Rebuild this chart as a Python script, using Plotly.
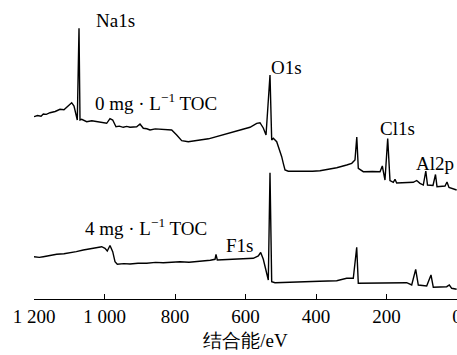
import plotly.graph_objects as go

# Binding energy (eV) and intensity (a.u.)
be_0mg = [1200, 1190, 1180, 1173.6, 1165, 1154.6, 1140, 1126.2, 1115, 1107.2, 1093.1, 1086.5, 1080.9, 1077.2, 1072.3,
          1069.5, 1064.7, 1058, 1050.5, 1036, 1022.1, 1008, 993.8, 984.4, 976.7, 967.4, 958, 946.7, 937, 927.7,
          908.7, 899.3, 889.9, 880, 870.9, 856, 842.6, 823.6, 809.4, 795.2, 781.0, 762.3, 745, 729.1, 705,
          681.7, 660, 634.6, 610, 587.2, 568.2, 558.9, 549.5, 541.8, 530.5, 525.7, 521.1, 511.5,
          506.9, 502.1, 497.3, 492.8, 487.9, 478.6, 460, 436.9, 410, 388.7, 365, 341.3, 312.9,
          298.7, 289.4, 284.3, 280.0, 265.8, 240, 218.4, 211.9, 204.3, 196.6, 190.1, 180.7,
          175.9, 171.1, 150, 124.0, 114.3, 105.0, 95.6, 88.5, 83.7, 68.1, 61.0, 56.7, 34.0,
          28.4, 22.7, 1]
int_0mg = [182.3, 183.5, 182.8, 185, 184.6, 186.3, 187.5, 189.7, 189.2, 191.7, 196.3, 193, 186, 179, 270.7,
           179, 179.7, 178.4, 177.3, 178.2, 177.3, 176.5, 175.7, 180.3, 179, 172.3, 172.9, 171.7, 172.6, 171.7,
           172.3, 175, 170.7, 170.2, 169, 170.1, 169.7, 169.7, 169, 164, 158.3, 157.3, 158.5, 159, 160.2,
           162.3, 164.5, 167.3, 169.5, 171.7, 175.7, 176.3, 171, 164, 224, 159, 160.7, 157.3,
           152.3, 149, 142.3, 135.7, 129, 127.8, 127.8, 127.3, 127.8, 128.3, 129.5, 131.3, 134,
           135.7, 139, 162, 130.7, 127.3, 127.5, 127.3, 133, 119, 160.5, 118.5, 116.7,
           119.7, 116, 116.5, 116.7, 118.5, 115.7, 114, 128, 114, 113.5, 124.5, 112.3, 113,
           117, 111.5, 109]

be_4mg = [1200, 1185, 1173.6, 1155, 1135.6, 1115, 1097.9, 1080, 1060.2, 1045, 1031.8, 1008.0, 998.6, 992.1, 984.4, 976.7,
          970.2, 963.7, 945, 927.7, 905, 880.3, 855, 833.2, 810, 785.8, 760, 738.4, 719.7, 700, 686.5, 683.7, 680.0, 644.0,
          615.6, 577.9, 563.7, 556.9, 549.5, 539.9, 535.3, 530.5, 525.7, 516.3, 475, 436.0, 390, 341.3,
          312.9, 294.2, 284.5, 280.0, 246.8, 199.4, 142.7, 128.5, 117.2, 109.8, 86.0, 73.8,
          67.2, 29.2, 21.8, 15.0, 1]
int_4mg = [42.3, 41.6, 42.3, 43.5, 44.7, 45.3, 46.7, 47.4, 49, 49.6, 50.7, 52.3, 50.7, 48, 53.5, 47.3,
           37.3, 34.7, 35.4, 35, 35.8, 35.7, 36.6, 36.3, 37.1, 37.3, 36.8, 37.3, 38, 38.7, 39.7, 44.7, 39, 39.7,
           40.2, 40.7, 43, 46.5, 39.7, 24, 19, 126.3, 17.3, 16.3, 17.0, 17.3, 17.8, 18.3,
           20.7, 20.7, 51.7, 15.7, 15.7, 15.7, 16.3, 14, 29.7, 14, 13, 24,
           11.7, 12.3, 14, 10.7, 9.7]

tick_vals = [1200, 1000, 800, 600, 400, 200, 0]
tick_text = ["1 200", "1 000", "800", "600", "400", "200", "0"]

labels = [
    ("Na1s", 970.2, 279),
    ("0 mg · L<sup>−1</sup> TOC", 855.3, 197),
    ("O1s", 485.1, 232),
    ("Cl1s", 170.2, 171),
    ("Al2p", 62.4, 136),
    ("4 mg · L<sup>−1</sup> TOC", 882.3, 72),
    ("F1s", 617.0, 54),
]

FONT = "Liberation Serif"

fig = go.Figure()
for xs, ys in [(be_0mg, int_0mg), (be_4mg, int_4mg)]:
    fig.add_trace(go.Scatter(x=xs, y=ys, mode="lines",
                             line=dict(color="black", width=1.4),
                             showlegend=False, hoverinfo="skip"))

for text, x, y in labels:
    fig.add_annotation(x=x, y=y, xref="x", yref="y", text=text, showarrow=False,
                       font=dict(family=FONT, size=19, color="black"),
                       xanchor="center", yanchor="middle")

fig.update_layout(
    width=457, height=355,
    margin=dict(l=34, r=0, t=0, b=56, autoexpand=False),
    paper_bgcolor="white", plot_bgcolor="white",
    font=dict(family=FONT, size=19, color="black"),
    xaxis=dict(range=[1200, 0], tickvals=tick_vals, ticktext=tick_text,
               ticks="inside", ticklen=5, tickwidth=1, tickcolor="black",
               ticklabeloverflow="allow", automargin=False,
               showline=True, linecolor="black", linewidth=1,
               showgrid=False, zeroline=False,
               tickfont=dict(family=FONT, size=19, color="black"),
               title=dict(text="结合能/eV", standoff=7,
                          font=dict(family=FONT, size=19, color="black"))),
    yaxis=dict(range=[0, 299], visible=False, showgrid=False, zeroline=False),
)

fig.write_html("out.html")
